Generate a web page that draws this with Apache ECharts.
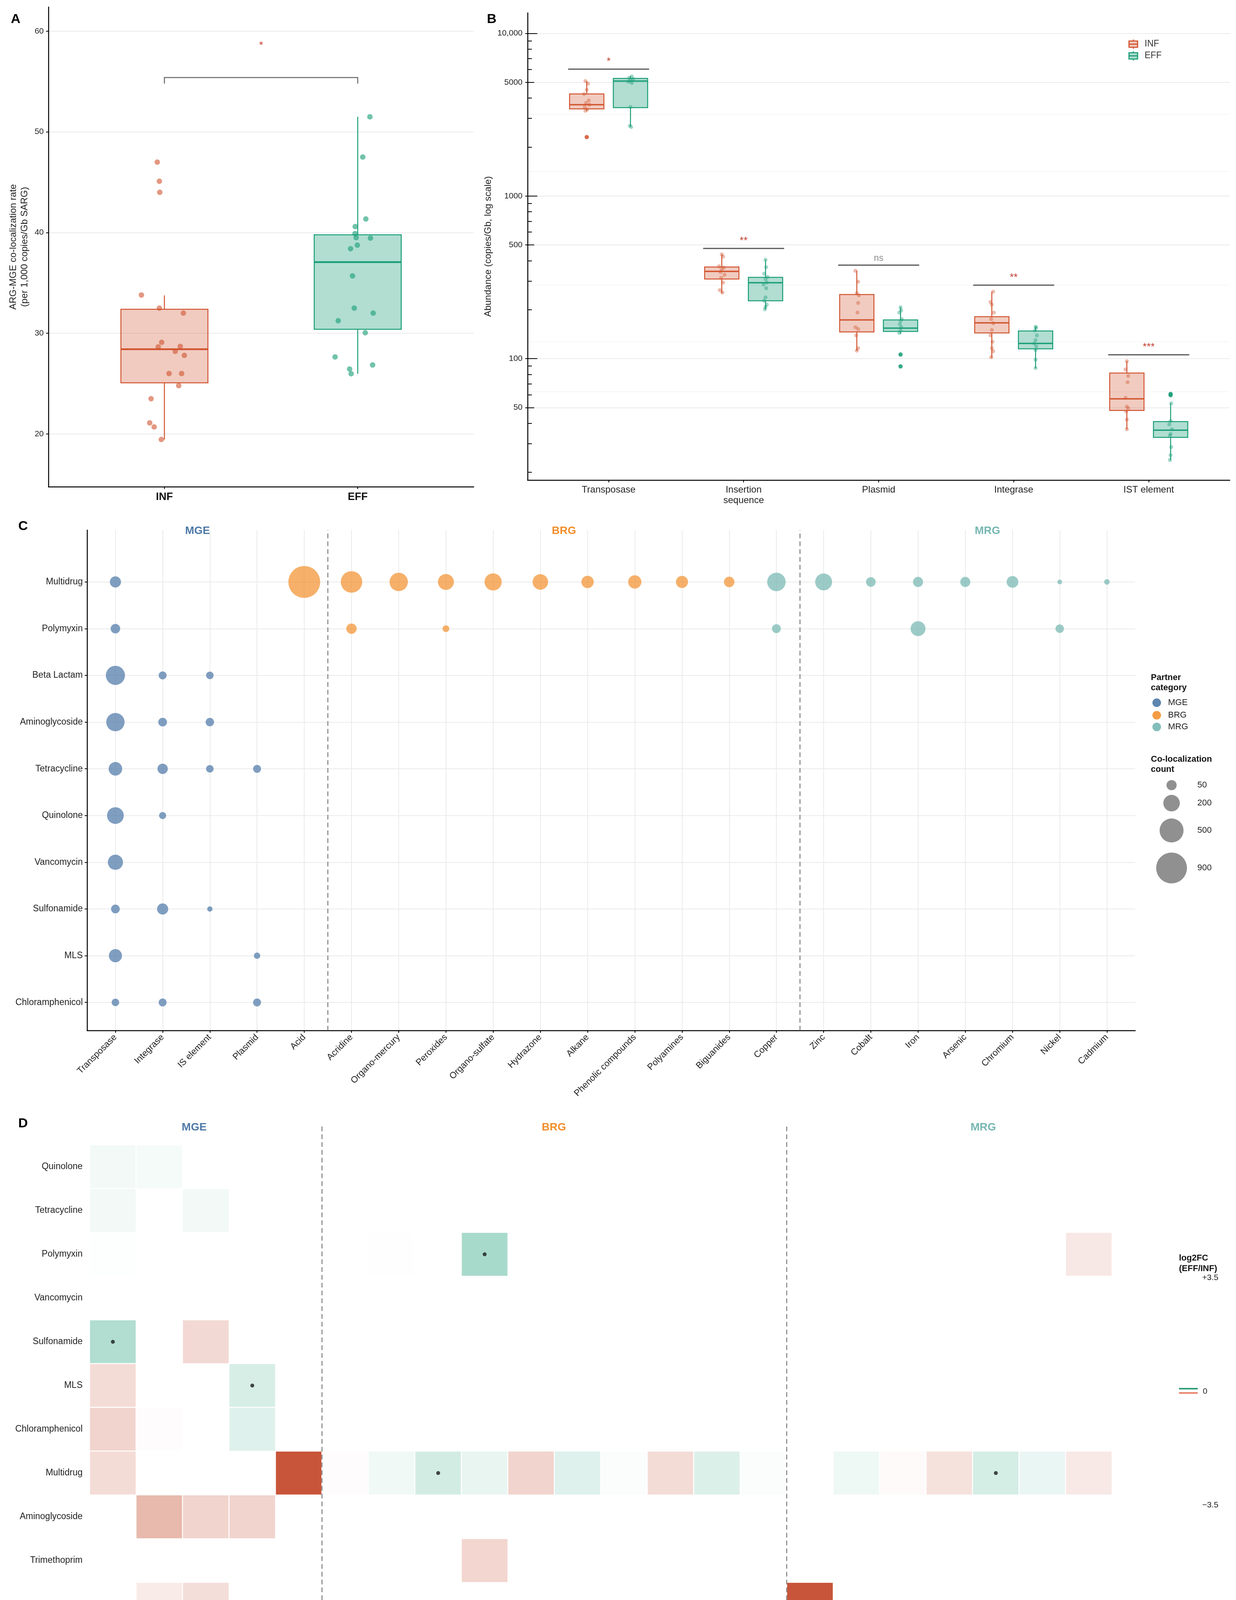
<!DOCTYPE html>
<html><head><meta charset="utf-8">
<script src="https://cdn.jsdelivr.net/npm/echarts@6/dist/echarts.min.js"></script>
<style>html,body{margin:0;padding:0;background:#fff}#c{width:3165px;height:4341px}</style>
</head><body><div id="c"></div>
<script>
// ---------------- Panel A data ----------------
const A_groups = ['INF', 'EFF'];
const A_yTicks = [20, 30, 40, 50, 60];
const A_INF_values = [47.0, 45.1, 44.0, 33.8, 32.5, 32.0, 29.1, 28.65, 28.7, 28.2, 27.8, 26.0, 26.0, 24.8, 23.5, 21.1, 20.7, 19.45];
const A_INF_jitter = [-0.037, -0.026, -0.024, -0.119, -0.026, 0.098, -0.014, -0.032, 0.082, 0.056, 0.103, 0.024, 0.089, 0.074, -0.069, -0.076, -0.053, -0.016];
const A_EFF_values = [51.5, 47.5, 41.35, 40.6, 39.9, 39.5, 39.45, 38.75, 38.4, 35.7, 32.5, 32.0, 31.25, 30.05, 27.65, 26.85, 26.45, 25.98];
const A_EFF_jitter = [0.063, 0.026, 0.042, -0.013, -0.014, -0.008, 0.066, -0.002, -0.037, -0.027, -0.018, 0.080, -0.101, 0.039, -0.117, 0.077, -0.042, -0.034];
const A_INF_box = [19.45, 25.08, 28.42, 32.38, 33.76];   // lower whisker, Q1, median, Q3, upper whisker
const A_EFF_box = [25.98, 30.39, 37.07, 39.78, 51.5];
const A_sigBracket = [55.4, 54.8];   // bracket height, bracket end height
const A_sigLabel = ['*', 58.8];

// ---------------- Panel B data ----------------
const B_categories = ['Transposase', 'Insertion\nsequence', 'Plasmid', 'Integrase', 'IST element'];
const B_yTicks = [50, 100, 500, 1000, 5000, 10000];
const B_yTickLabels = ['50', '100', '500', '1000', '5000', '10,000'];
const B_logTicksLong = [100, 1000, 10000];
const B_logTicksMid = [50, 500, 5000];
const B_logTicksShort = [20, 30, 40, 60, 70, 80, 90, 200, 300, 400, 600, 700, 800, 900, 2000, 3000, 4000, 6000, 7000, 8000, 9000];
const B_minorGrid = [62.7, 127, 284, 1415, 3180];
const B_INF_box = [
  [3342, 3436, 3646, 4241, 5093],
  [252, 309, 344, 366, 437],
  [112, 146, 173, 248, 347],
  [101, 144, 166, 181, 258],
  [36.8, 48.0, 56.6, 81.6, 96.4]
];
const B_EFF_box = [
  [2680, 3499, 5093, 5284, 5480],
  [201, 227, 293, 316, 405],
  [142, 147, 154, 173, 207],
  [87.5, 115, 124, 148, 157],
  [23.8, 32.8, 36.3, 41.0, 53.1]
];
const B_INF_points = [
  [5093, 4910, 4500, 4241, 3869, 3730, 3646, 3530, 3404, 3342, 2304],
  [438, 424, 370, 363, 353, 341, 328, 314, 294, 264, 255],
  [347, 297, 253, 245, 220, 192, 156, 152, 139, 116, 112],
  [258, 223, 215, 192, 175, 165, 150, 139, 127, 116, 111, 102],
  [96.4, 85.9, 78.3, 71.6, 57.4, 50.7, 49.5, 47.3, 42.2, 36.8]
];
const B_INF_jitter = [
  [-0.01, 0.01, 0.0, -0.02, 0.015, -0.005, 0.02, -0.015, 0.005, -0.01, 0.0],
  [0.0, 0.01, -0.02, 0.015, 0.0, -0.01, 0.02, -0.005, 0.01, -0.015, 0.005],
  [-0.01, 0.01, 0.0, 0.015, 0.01, 0.005, -0.01, 0.01, -0.005, 0.01, 0.0],
  [0.01, -0.01, 0.0, 0.015, -0.005, 0.01, 0.0, -0.01, 0.005, 0.0, 0.01, -0.005],
  [0.0, -0.01, 0.01, 0.005, -0.01, 0.0, 0.01, -0.005, 0.0, 0.0]
];
const B_EFF_points = [
  [5433, 5333, 5236, 5140, 5046, 4954, 3530, 2705, 2655],
  [406, 365, 333, 318, 308, 294, 286, 271, 238, 227, 215, 208, 201],
  [207, 198, 192, 175, 171, 163, 156, 149, 144, 106, 89.6],
  [157, 155, 149, 139, 130, 124, 119, 113, 98.6, 87.5],
  [60.7, 59.6, 53.1, 41.3, 39.4, 36.8, 34.4, 33.6, 28.6, 25.5, 23.8]
];
const B_EFF_jitter = [
  [0.01, -0.01, 0.02, 0.0, -0.015, 0.01, 0.0, -0.005, 0.005],
  [0.0, 0.005, -0.01, 0.015, 0.0, 0.01, -0.015, 0.005, 0.0, -0.01, 0.01, 0.0, -0.005],
  [0.0, 0.005, -0.01, 0.01, 0.0, -0.005, 0.005, 0.0, -0.01, 0.0, 0.0],
  [0.0, 0.005, -0.005, 0.01, 0.0, -0.01, 0.005, 0.0, 0.0, 0.0],
  [0.0, 0.0, 0.005, 0.0, -0.01, 0.01, 0.0, -0.005, 0.005, 0.0, -0.005]
];
const B_INF_outliers = [[2304], [], [], [], []];
const B_EFF_outliers = [[], [], [106, 89.6], [], [60.7, 59.6]];
const B_sigY = [6030, 476, 376, 283, 105.7];
const B_sigLabels = ['*', '**', 'ns', '**', '***'];

// ---------------- Panel C data ----------------
const C_x = ['Transposase', 'Integrase', 'IS element', 'Plasmid', 'Acid', 'Acridine', 'Organo-mercury', 'Peroxides', 'Organo-sulfate', 'Hydrazone', 'Alkane', 'Phenolic compounds', 'Polyamines', 'Biguanides', 'Copper', 'Zinc', 'Cobalt', 'Iron', 'Arsenic', 'Chromium', 'Nickel', 'Cadmium'];
const C_y = ['Multidrug', 'Polymyxin', 'Beta Lactam', 'Aminoglycoside', 'Tetracycline', 'Quinolone', 'Vancomycin', 'Sulfonamide', 'MLS', 'Chloramphenicol']; // top to bottom
const C_MGE = [
  ['Transposase', 'Multidrug', 67], ['Transposase', 'Polymyxin', 41],
  ['Transposase', 'Beta Lactam', 289], ['Integrase', 'Beta Lactam', 22], ['IS element', 'Beta Lactam', 18],
  ['Transposase', 'Aminoglycoside', 260], ['Integrase', 'Aminoglycoside', 30], ['IS element', 'Aminoglycoside', 26],
  ['Transposase', 'Tetracycline', 117], ['Integrase', 'Tetracycline', 53], ['IS element', 'Tetracycline', 18], ['Plasmid', 'Tetracycline', 22],
  ['Transposase', 'Quinolone', 206], ['Integrase', 'Quinolone', 14],
  ['Transposase', 'Vancomycin', 159],
  ['Transposase', 'Sulfonamide', 30], ['Integrase', 'Sulfonamide', 67], ['IS element', 'Sulfonamide', 3],
  ['Transposase', 'MLS', 108], ['Plasmid', 'MLS', 8],
  ['Transposase', 'Chloramphenicol', 18], ['Integrase', 'Chloramphenicol', 22], ['Plasmid', 'Chloramphenicol', 22]
];
const C_BRG = [
  ['Acid', 'Multidrug', 970], ['Acridine', 'Multidrug', 385], ['Organo-mercury', 'Multidrug', 261], ['Peroxides', 'Multidrug', 181],
  ['Organo-sulfate', 'Multidrug', 219], ['Hydrazone', 'Multidrug', 170], ['Alkane', 'Multidrug', 90], ['Phenolic compounds', 'Multidrug', 111],
  ['Polyamines', 'Multidrug', 85], ['Biguanides', 'Multidrug', 55],
  ['Acridine', 'Polymyxin', 53], ['Peroxides', 'Polymyxin', 11]
];
const C_MRG = [
  ['Copper', 'Multidrug', 266], ['Zinc', 'Multidrug', 212], ['Cobalt', 'Multidrug', 42], ['Iron', 'Multidrug', 49],
  ['Arsenic', 'Multidrug', 49], ['Chromium', 'Multidrug', 77], ['Nickel', 'Multidrug', 1], ['Cadmium', 'Multidrug', 4],
  ['Copper', 'Polymyxin', 32], ['Iron', 'Polymyxin', 152], ['Nickel', 'Polymyxin', 27]
];
const C_dividers = [5.5, 15.5];
const C_groupLabels = ['MGE', 'BRG', 'MRG'];
const C_groupLabelX = [2.74, 10.5, 19.47];
const C_sizeLegend = [50, 200, 500, 900];

// ---------------- Panel D data ----------------
const D_x = ['Transposase', 'Integrase', 'IS element', 'Plasmid', 'IST element', 'Acid', 'Acridine', 'Organo-mercury', 'Peroxides', 'Organo-sulfate', 'Hydrazone', 'Alkane', 'Phenolic compounds', 'Polyamines', 'Biguanides', 'Copper', 'Zinc', 'Cobalt', 'Iron', 'Arsenic', 'Chromium', 'Nickel', 'Cadmium'];
const D_y = ['Quinolone', 'Tetracycline', 'Polymyxin', 'Vancomycin', 'Sulfonamide', 'MLS', 'Chloramphenicol', 'Multidrug', 'Aminoglycoside', 'Trimethoprim', 'Beta Lactam']; // top to bottom
const D_cells = [
  ['Transposase', 'Quinolone', 0.2], ['Integrase', 'Quinolone', 0.15],
  ['Transposase', 'Tetracycline', 0.2], ['IS element', 'Tetracycline', 0.2],
  ['Transposase', 'Polymyxin', 0.03], ['Acridine', 'Polymyxin', -0.02], ['Peroxides', 'Polymyxin', 1.33], ['Nickel', 'Polymyxin', -0.47],
  ['Transposase', 'Sulfonamide', 1.19], ['IS element', 'Sulfonamide', -0.78],
  ['Transposase', 'MLS', -0.72], ['Plasmid', 'MLS', 0.61],
  ['Transposase', 'Chloramphenicol', -0.88], ['Integrase', 'Chloramphenicol', -0.06], ['Plasmid', 'Chloramphenicol', 0.49],
  ['Transposase', 'Multidrug', -0.72], ['IST element', 'Multidrug', -3.5], ['Acid', 'Multidrug', -0.06], ['Acridine', 'Multidrug', 0.22],
  ['Organo-mercury', 'Multidrug', 0.69], ['Peroxides', 'Multidrug', 0.35], ['Organo-sulfate', 'Multidrug', -0.88], ['Hydrazone', 'Multidrug', 0.5],
  ['Alkane', 'Multidrug', 0.06], ['Phenolic compounds', 'Multidrug', -0.72], ['Polyamines', 'Multidrug', 0.53], ['Biguanides', 'Multidrug', 0.06],
  ['Zinc', 'Multidrug', 0.26], ['Cobalt', 'Multidrug', -0.1], ['Iron', 'Multidrug', -0.6], ['Arsenic', 'Multidrug', 0.66],
  ['Chromium', 'Multidrug', 0.32], ['Nickel', 'Multidrug', -0.45],
  ['Integrase', 'Aminoglycoside', -1.45], ['IS element', 'Aminoglycoside', -0.88], ['Plasmid', 'Aminoglycoside', -0.88],
  ['Peroxides', 'Trimethoprim', -0.85],
  ['Integrase', 'Beta Lactam', -0.4], ['IS element', 'Beta Lactam', -0.67], ['Copper', 'Beta Lactam', -3.5]
];
const D_significant = [['Peroxides', 'Polymyxin'], ['Transposase', 'Sulfonamide'], ['Plasmid', 'MLS'], ['Organo-mercury', 'Multidrug'], ['Arsenic', 'Multidrug']];
const D_dividers = [5.5, 15.5];
const D_groupLabelX = [2.75, 10.49, 19.73];
const D_range = [-3.5, 3.5];
const D_legendLabels = ['+3.5', '0', '\u22123.5'];

// ---------------- styles ----------------
const FONT = '"Liberation Sans", Arial, Helvetica, sans-serif';
const INF_C = '#D1542F', EFF_C = '#1B9E77';
const BOX_COL = [INF_C, EFF_C];
const BOX_FILL = ['rgba(209,84,47,0.30)', 'rgba(27,158,119,0.34)'];
const GROUP_COL = ['#4E79A7', '#F28E2B', '#76B7B2'];
const BUBBLE_COL = ['rgba(78,121,167,0.9)', 'rgba(242,142,43,0.88)', 'rgba(118,183,178,0.9)'];
const GRID_COL = '#EBEBEB';
const sizeFn = n => 9.66 + 2.311 * Math.sqrt(n);

function boxRender(halfW, lw, medLw) {
  return function (params, api) {
    const x = api.value(0), g = api.value(6);
    const pLo = api.coord([x, api.value(1)]), pQ1 = api.coord([x, api.value(2)]);
    const pMed = api.coord([x, api.value(3)]), pQ3 = api.coord([x, api.value(4)]), pHi = api.coord([x, api.value(5)]);
    const left = api.coord([x - halfW, api.value(2)])[0], right = api.coord([x + halfW, api.value(2)])[0];
    const c = BOX_COL[g];
    return { type: 'group', children: [
      { type: 'line', shape: { x1: pLo[0], y1: pLo[1], x2: pQ1[0], y2: pQ1[1] }, style: { stroke: c, lineWidth: lw } },
      { type: 'line', shape: { x1: pQ3[0], y1: pQ3[1], x2: pHi[0], y2: pHi[1] }, style: { stroke: c, lineWidth: lw } },
      { type: 'rect', shape: { x: left, y: pQ3[1], width: right - left, height: pQ1[1] - pQ3[1] }, style: { fill: BOX_FILL[g], stroke: c, lineWidth: lw } },
      { type: 'line', shape: { x1: left, y1: pMed[1], x2: right, y2: pMed[1] }, style: { stroke: c, lineWidth: medLw } }
    ] };
  };
}
function axLine() { return { show: true, onZero: false, lineStyle: { color: '#000', width: 2.5 } }; }
function tick(vals, len, inside) { return { show: true, customValues: vals, length: len, inside: !!inside, lineStyle: { color: '#000', width: 2 } }; }

// ---------------- build series data ----------------
const A_boxData = [[1, ...A_INF_box, 0], [2, ...A_EFF_box, 1]];
const A_INF_pts = A_INF_values.map((v, i) => [1 + A_INF_jitter[i], v]);
const A_EFF_pts = A_EFF_values.map((v, i) => [2 + A_EFF_jitter[i], v]);

const B_OFF = 0.162;
const B_boxData = [];
B_categories.forEach((c, i) => {
  B_boxData.push([i + 1 - B_OFF, ...B_INF_box[i], 0]);
  B_boxData.push([i + 1 + B_OFF, ...B_EFF_box[i], 1]);
});
const B_INF_pts = [], B_EFF_pts = [], B_INF_out = [], B_EFF_out = [];
B_categories.forEach((c, i) => {
  B_INF_points[i].forEach((v, j) => B_INF_pts.push([i + 1 - B_OFF + B_INF_jitter[i][j], v]));
  B_EFF_points[i].forEach((v, j) => B_EFF_pts.push([i + 1 + B_OFF + B_EFF_jitter[i][j], v]));
  B_INF_outliers[i].forEach(v => B_INF_out.push([i + 1 - B_OFF, v]));
  B_EFF_outliers[i].forEach(v => B_EFF_out.push([i + 1 + B_OFF, v]));
});
const B_sigData = B_sigY.map((y, i) => [i + 1, y, i]);

const cYIndex = name => C_y.length - C_y.indexOf(name);
const cXIndex = name => C_x.indexOf(name) + 1;
const C_series = [C_MGE, C_BRG, C_MRG].map(arr => arr.map(([xn, yn, n]) => [cXIndex(xn), cYIndex(yn), n]));
const C_xTicks = C_x.map((_, i) => i + 1);
const C_yTicks = C_y.map((_, i) => i + 1);

const D_heat = D_cells.map(([xn, yn, v]) => [D_x.indexOf(xn), D_y.indexOf(yn), v]);
const D_dots = D_significant.map(([xn, yn]) => [D_x.indexOf(xn), D_y.indexOf(yn)]);

function bLogAxis(extra) {
  return Object.assign({ gridIndex: 1, type: 'log', logBase: 10, min: 17.92, max: 13370, position: 'left', offset: 0 }, extra);
}

// ---------------- option ----------------
const option = {
  animation: false,
  backgroundColor: '#ffffff',
  textStyle: { fontFamily: FONT },
  grid: [
    { left: 124, top: 18, width: 1089, height: 1228, outerBoundsMode: 'none' },
    { left: 1351, top: 33, width: 1798, height: 1196, outerBoundsMode: 'none' },
    { left: 223, top: 1357, width: 2684, height: 1281, outerBoundsMode: 'none' },
    { left: 229.5, top: 2931, width: 2737, height: 1232, outerBoundsMode: 'none' }
  ],
  xAxis: [
    { gridIndex: 0, type: 'value', min: 0.4, max: 2.6, axisLine: axLine(), axisTick: tick([1, 2], 6),
      axisLabel: { customValues: [1, 2], formatter: v => A_groups[Math.round(v) - 1], fontSize: 27, fontWeight: 'bold', color: '#111', margin: 13, fontFamily: FONT },
      splitLine: { show: false } },
    { gridIndex: 1, type: 'value', min: 0.4, max: 5.6, axisLine: axLine(), axisTick: tick([1, 2, 3, 4, 5], 6),
      axisLabel: { customValues: [1, 2, 3, 4, 5], formatter: v => B_categories[Math.round(v) - 1], fontSize: 24, lineHeight: 27, color: '#222', margin: 12, fontFamily: FONT },
      splitLine: { show: false } },
    { gridIndex: 2, type: 'value', min: 0.4, max: 22.6, axisLine: axLine(), axisTick: tick(C_xTicks, 6),
      axisLabel: { customValues: C_xTicks, formatter: v => C_x[Math.round(v) - 1], rotate: 45, fontSize: 23, color: '#222', margin: 14, fontFamily: FONT },
      splitLine: { show: true, lineStyle: { color: GRID_COL, width: 2 } } },
    { gridIndex: 3, type: 'category', data: D_x, axisLine: { show: false }, axisTick: { show: false },
      axisLabel: { rotate: 45, fontSize: 23, color: '#222', margin: 20, interval: 0, fontFamily: FONT }, splitLine: { show: false } },
    { gridIndex: 3, type: 'value', min: 0.5, max: 23.5, show: false }
  ],
  yAxis: [
    { gridIndex: 0, type: 'value', min: 14.76, max: 62.4, axisLine: axLine(), axisTick: tick(A_yTicks, 6),
      axisLabel: { customValues: A_yTicks, fontSize: 21, color: '#222', margin: 12, fontFamily: FONT },
      splitLine: { show: true, lineStyle: { color: GRID_COL, width: 2 } },
      name: 'ARG-MGE co-localization rate\n(per 1,000 copies/Gb SARG)', nameLocation: 'middle', nameGap: 46,
      nameTextStyle: { fontSize: 24, lineHeight: 29, color: '#222', fontFamily: FONT } },
    bLogAxis({ axisLine: axLine(), axisTick: tick(B_yTicks, 6),
      axisLabel: { customValues: B_yTicks, formatter: v => B_yTickLabels[B_yTicks.indexOf(Math.round(v))], fontSize: 21, color: '#222', margin: 13, fontFamily: FONT },
      splitLine: { show: true, lineStyle: { color: GRID_COL, width: 2 } },
      name: 'Abundance (copies/Gb, log scale)', nameLocation: 'middle', nameGap: 86,
      nameTextStyle: { fontSize: 24, color: '#222', fontFamily: FONT } }),
    bLogAxis({ axisLine: { show: false }, axisTick: tick(B_logTicksLong, 25, true), axisLabel: { show: false }, splitLine: { show: false } }),
    bLogAxis({ axisLine: { show: false }, axisTick: tick(B_logTicksMid, 17, true), axisLabel: { show: false }, splitLine: { show: false } }),
    bLogAxis({ axisLine: { show: false }, axisTick: tick(B_logTicksShort, 11, true), axisLabel: { show: false }, splitLine: { show: false } }),
    bLogAxis({ axisLine: { show: false }, axisTick: { show: false, customValues: B_minorGrid }, axisLabel: { show: false },
      splitLine: { show: true, lineStyle: { color: '#F3F3F3', width: 1.5 } } }),
    { gridIndex: 2, type: 'value', min: 0.4, max: 11.11, axisLine: axLine(), axisTick: tick(C_yTicks, 6),
      axisLabel: { customValues: C_yTicks, formatter: v => C_y[C_y.length - Math.round(v)], fontSize: 23, color: '#222', margin: 11, fontFamily: FONT },
      splitLine: { show: true, lineStyle: { color: GRID_COL, width: 2 } } },
    { gridIndex: 3, type: 'category', data: D_y, inverse: true, axisLine: { show: false }, axisTick: { show: false },
      axisLabel: { fontSize: 23, color: '#222', margin: 18, interval: 0, fontFamily: FONT }, splitLine: { show: false } },
    { gridIndex: 3, type: 'value', min: 0.5, max: 11.5, show: false }
  ],
  visualMap: [{
    type: 'continuous', show: false, min: D_range[0], max: D_range[1], dimension: 2, seriesIndex: 14,
    inRange: { color: ['#C8553A', '#FFFFFF', '#1B9E77'] }
  }],
  series: [
    // 0: A boxes
    { type: 'custom', xAxisIndex: 0, yAxisIndex: 0, data: A_boxData, renderItem: boxRender(0.225, 2.5, 4.5), z: 2 },
    // 1,2: A points
    { type: 'scatter', xAxisIndex: 0, yAxisIndex: 0, data: A_INF_pts, symbolSize: 14, itemStyle: { color: 'rgba(209,84,47,0.75)' }, z: 3 },
    { type: 'scatter', xAxisIndex: 0, yAxisIndex: 0, data: A_EFF_pts, symbolSize: 14, itemStyle: { color: 'rgba(27,158,119,0.78)' }, z: 3 },
    // 3: A significance
    { type: 'custom', xAxisIndex: 0, yAxisIndex: 0, data: [[1, 2, A_sigBracket[0], A_sigBracket[1], A_sigLabel[1]]],
      renderItem: (p, api) => {
        const a = api.coord([api.value(0), api.value(3)]), b = api.coord([api.value(0), api.value(2)]);
        const c = api.coord([api.value(1), api.value(2)]), d = api.coord([api.value(1), api.value(3)]);
        const s = api.coord([(api.value(0) + api.value(1)) / 2, api.value(4)]);
        return { type: 'group', children: [
          { type: 'polyline', shape: { points: [a, b, c, d] }, style: { stroke: '#666', lineWidth: 2.5, fill: null } },
          { type: 'text', x: s[0], y: s[1] + 6, style: { text: A_sigLabel[0], fill: '#C0392B', fontSize: 26, fontFamily: FONT, align: 'center', verticalAlign: 'middle' } }
        ] };
      } },
    // 4: B boxes
    { type: 'custom', xAxisIndex: 1, yAxisIndex: 1, data: B_boxData, renderItem: boxRender(0.127, 2.5, 3.5), z: 2 },
    // 5,6: B points
    { type: 'scatter', xAxisIndex: 1, yAxisIndex: 1, data: B_INF_pts, symbolSize: 10, itemStyle: { color: 'rgba(209,84,47,0.5)' }, z: 3 },
    { type: 'scatter', xAxisIndex: 1, yAxisIndex: 1, data: B_EFF_pts, symbolSize: 10, itemStyle: { color: 'rgba(27,158,119,0.5)' }, z: 3 },
    // 7,8: B outliers
    { type: 'scatter', xAxisIndex: 1, yAxisIndex: 1, data: B_INF_out, symbolSize: 11, itemStyle: { color: INF_C }, z: 4 },
    { type: 'scatter', xAxisIndex: 1, yAxisIndex: 1, data: B_EFF_out, symbolSize: 11, itemStyle: { color: EFF_C }, z: 4 },
    // 9: B significance
    { type: 'custom', xAxisIndex: 1, yAxisIndex: 1, data: B_sigData,
      renderItem: (p, api) => {
        const x = api.value(0), y = api.value(1), lab = B_sigLabels[api.value(2)];
        const l = api.coord([x - 0.3, y]), r = api.coord([x + 0.3, y]);
        return { type: 'group', children: [
          { type: 'line', shape: { x1: l[0], y1: l[1], x2: r[0], y2: r[1] }, style: { stroke: '#555', lineWidth: 3 } },
          { type: 'text', x: (l[0] + r[0]) / 2, y: l[1] - 6, style: { text: lab, fill: lab === 'ns' ? '#8C8C8C' : '#C0392B', fontSize: lab === 'ns' ? 23 : 26, fontFamily: FONT, align: 'center', verticalAlign: 'bottom' } }
        ] };
      } },
    // 10-12: C bubbles
    { type: 'scatter', name: 'MGE', xAxisIndex: 2, yAxisIndex: 6, data: C_series[0], symbolSize: v => sizeFn(v[2]), itemStyle: { color: BUBBLE_COL[0] }, z: 3,
      markLine: { silent: true, symbol: ['none', 'none'], label: { show: false }, lineStyle: { type: [12, 8], color: '#808080', width: 2.5 },
        data: C_dividers.map(x => ({ xAxis: x })) } },
    { type: 'scatter', name: 'BRG', xAxisIndex: 2, yAxisIndex: 6, data: C_series[1], symbolSize: v => sizeFn(v[2]), itemStyle: { color: BUBBLE_COL[1] }, z: 3 },
    { type: 'scatter', name: 'MRG', xAxisIndex: 2, yAxisIndex: 6, data: C_series[2], symbolSize: v => sizeFn(v[2]), itemStyle: { color: BUBBLE_COL[2] }, z: 3 },
    // 13: C group labels
    { type: 'custom', xAxisIndex: 2, yAxisIndex: 6, data: C_groupLabelX.map((x, i) => [x, 11.09, i]),
      renderItem: (p, api) => {
        const pt = api.coord([api.value(0), api.value(1)]), i = api.value(2);
        return { type: 'text', x: pt[0], y: pt[1], style: { text: C_groupLabels[i], fill: GROUP_COL[i], fontSize: 28, fontWeight: 'bold', fontFamily: FONT, align: 'center', verticalAlign: 'middle' } };
      } },
    // 14: D heatmap
    { type: 'heatmap', xAxisIndex: 3, yAxisIndex: 7, data: D_heat, itemStyle: { borderColor: '#ffffff', borderWidth: 2.5 }, emphasis: { disabled: true }, progressive: 0 },
    // 15: D significance dots
    { type: 'scatter', xAxisIndex: 3, yAxisIndex: 7, data: D_dots, symbolSize: 10, itemStyle: { color: '#1a1a1a' }, z: 5 },
    // 16: D dividers
    { type: 'custom', xAxisIndex: 4, yAxisIndex: 8, data: D_dividers.map(x => [x]),
      renderItem: (p, api) => {
        const t = api.coord([api.value(0), 11.92]), b = api.coord([api.value(0), 0.43]);
        return { type: 'line', shape: { x1: t[0], y1: t[1], x2: b[0], y2: b[1] }, style: { stroke: '#808080', lineWidth: 2.5, lineDash: [12, 8] } };
      } },
    // 17: D group labels
    { type: 'custom', xAxisIndex: 4, yAxisIndex: 8, data: D_groupLabelX.map((x, i) => [x, 11.9, i]),
      renderItem: (p, api) => {
        const pt = api.coord([api.value(0), api.value(1)]), i = api.value(2);
        return { type: 'text', x: pt[0], y: pt[1], style: { text: C_groupLabels[i], fill: GROUP_COL[i], fontSize: 28, fontWeight: 'bold', fontFamily: FONT, align: 'center', verticalAlign: 'middle' } };
      } }
  ],
  graphic: []
};

// ---------------- legends & panel letters (graphic) ----------------
const G = option.graphic;
const txt = (x, y, text, o) => G.push({ type: 'text', x, y, style: Object.assign({ text, fill: '#111', fontSize: 22, fontFamily: FONT, align: 'left', verticalAlign: 'middle' }, o || {}) });
[['A', 40, 50], ['B', 1259, 50], ['C', 59, 1348], ['D', 59, 2877]].forEach(([t, x, y]) => txt(x, y, t, { fontSize: 34, fontWeight: 'bold', align: 'center', fill: '#000' }));

// B legend
A_groups.forEach((g, i) => {
  const cx = 2902, cy = 113 + i * 30;
  G.push({ type: 'line', shape: { x1: cx, y1: cy - 12, x2: cx, y2: cy + 12 }, style: { stroke: BOX_COL[i], lineWidth: 2.5 } });
  G.push({ type: 'rect', shape: { x: cx - 11, y: cy - 8, width: 22, height: 16 }, style: { fill: '#fff', stroke: BOX_COL[i], lineWidth: 2.5 } });
  G.push({ type: 'rect', shape: { x: cx - 11, y: cy - 8, width: 22, height: 16 }, style: { fill: BOX_FILL[i], stroke: BOX_COL[i], lineWidth: 2.5 } });
  G.push({ type: 'line', shape: { x1: cx - 11, y1: cy, x2: cx + 11, y2: cy }, style: { stroke: BOX_COL[i], lineWidth: 3 } });
  txt(2931, cy, g, { fontSize: 23, fill: '#333' });
});

// C legend
txt(2947, 1722, 'Partner\ncategory', { fontWeight: 'bold', verticalAlign: 'top', lineHeight: 26 });
C_groupLabels.forEach((g, i) => {
  const y = [1799, 1831, 1861][i];
  G.push({ type: 'circle', shape: { cx: 2962, cy: y, r: 11 }, style: { fill: BUBBLE_COL[i] } });
  txt(2991, y, g, { fill: '#222' });
});
txt(2947, 1931, 'Co-localization\ncount', { fontWeight: 'bold', verticalAlign: 'top', lineHeight: 26 });
C_sizeLegend.forEach((n, i) => {
  const y = [2010, 2056, 2126, 2222][i];
  G.push({ type: 'circle', shape: { cx: 3000, cy: y, r: sizeFn(n) / 2 }, style: { fill: 'rgba(125,125,125,0.85)' } });
  txt(3066, y, String(n), { fill: '#222' });
});

// D legend
txt(3019, 3207, 'log2FC\n(EFF/INF)', { fontWeight: 'bold', verticalAlign: 'top', lineHeight: 27 });
txt(3120, 3271, D_legendLabels[0], { align: 'right', fontSize: 21, fill: '#222' });
G.push({ type: 'line', shape: { x1: 3019, y1: 3555, x2: 3067, y2: 3555 }, style: { stroke: '#2E9E78', lineWidth: 4 } });
G.push({ type: 'line', shape: { x1: 3019, y1: 3566, x2: 3067, y2: 3566 }, style: { stroke: '#E8826A', lineWidth: 4 } });
txt(3080, 3562, D_legendLabels[1], { fontSize: 21, fill: '#222' });
txt(3120, 3853, D_legendLabels[2], { align: 'right', fontSize: 21, fill: '#222' });

const chart = echarts.init(document.getElementById('c'), null, { renderer: 'canvas', width: 3165, height: 4341 });
chart.setOption(option);
</script>
</body></html>
